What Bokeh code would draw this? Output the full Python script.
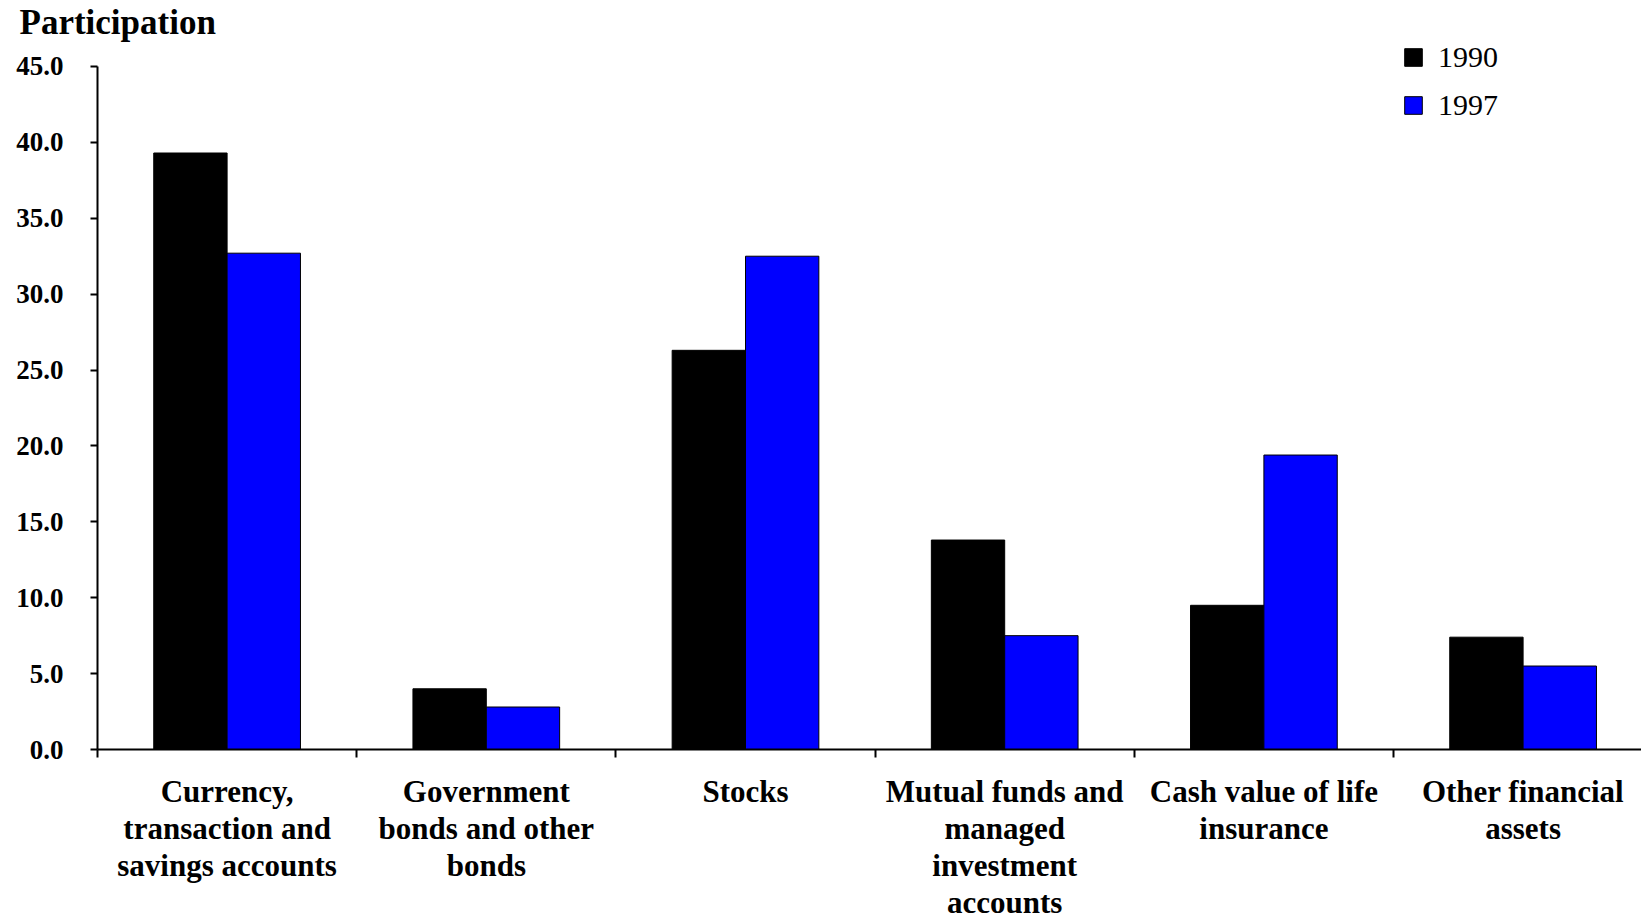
import numpy as np
from bokeh.plotting import figure
from bokeh.models import (ColumnDataSource, FixedTicker, NumeralTickFormatter, Range1d,
                          Legend, LegendItem, Label)
from bokeh.embed import file_html
from bokeh.resources import INLINE

categories = ["Currency,\ntransaction and\nsavings accounts",
              "Government\nbonds and other\nbonds",
              "Stocks",
              "Mutual funds and\nmanaged\ninvestment\naccounts",
              "Cash value of life\ninsurance",
              "Other financial\nassets"]
vals_1990 = [39.3, 4.0, 26.3, 13.8, 9.5, 7.4]
vals_1997 = [32.7, 2.8, 32.5, 7.5, 19.4, 5.5]
series_names = ["1990", "1997"]
y_ticks = [0, 5, 10, 15, 20, 25, 30, 35, 40, 45]
y_max = 45

SERIF = "Liberation Serif"
n = len(categories)
centers = np.arange(n) + 0.5
bw = 0.283

src = ColumnDataSource(dict(x90=centers - bw / 2, x97=centers + bw / 2,
                            v90=vals_1990, v97=vals_1997))

W, H = 1641, 919
# layout in pixels: axis origin at (97, 749), category width 259.2 px, 15.178 px per unit
ox, oy, cw, pu = 97.0, 749.0, 259.2, 15.178
xr = Range1d(-ox / cw, (W - ox) / cw)
yr = Range1d(-(H - oy) / pu, oy / pu)

p = figure(width=W, height=H, output_backend="svg", toolbar_location=None,
           x_range=xr, y_range=yr,
           min_border_left=0, min_border_right=0, min_border_top=0, min_border_bottom=0)
p.outline_line_color = None
p.grid.grid_line_color = None
p.background_fill_color = "white"
p.border_fill_color = "white"

r1 = p.vbar(x="x90", top="v90", width=bw, bottom=0, source=src,
            fill_color="#000000", line_color="#000000", line_width=1)
r2 = p.vbar(x="x97", top="v97", width=bw, bottom=0, source=src,
            fill_color="#0000FF", line_color="#000000", line_width=1)

# y axis
ya = p.yaxis[0]
ya.fixed_location = 0
ya.bounds = (0, y_max)
ya.ticker = FixedTicker(ticks=y_ticks)
ya.formatter = NumeralTickFormatter(format="0.0")
ya.major_tick_out = 7
ya.major_tick_in = 0
ya.minor_tick_line_color = None
ya.axis_line_width = 2
ya.major_tick_line_width = 2
ya.major_label_text_font = SERIF
ya.major_label_text_font_style = "bold"
ya.major_label_text_font_size = "27px"
ya.major_label_text_color = "black"
ya.major_label_standoff = 27

# x axis: boundary ticks only; category labels drawn below
xa = p.xaxis[0]
xa.fixed_location = 0
xa.bounds = (0, n)
xa.ticker = FixedTicker(ticks=list(range(n + 1)))
xa.major_label_overrides = {i: "" for i in range(n + 1)}
xa.major_label_standoff = 0
xa.major_tick_out = 8
xa.major_tick_in = 0
xa.minor_tick_line_color = None
xa.major_tick_line_width = 2
xa.axis_line_width = 2

for c, lab in zip(centers, categories):
    p.add_layout(Label(x=float(c), y=H - 773, x_units="data", y_units="screen", text=lab,
                       text_font=SERIF, text_font_style="bold", text_font_size="31px",
                       text_line_height=1.06, text_align="center", text_baseline="top",
                       text_color="black"))

legend = Legend(items=[LegendItem(label=series_names[0], renderers=[r1]),
                       LegendItem(label=series_names[1], renderers=[r2])],
                location=(1402, H - 122), orientation="vertical")
legend.border_line_color = None
legend.background_fill_alpha = 0
legend.padding = 0
legend.margin = 0
legend.spacing = 14
legend.glyph_width = 22
legend.glyph_height = 22
legend.label_standoff = 14
legend.label_text_font = SERIF
legend.label_text_font_size = "30px"
legend.label_text_color = "black"
p.add_layout(legend, "center")

title = Label(x=19, y=H - 22, x_units="screen", y_units="screen", text="Participation",
              text_font=SERIF, text_font_style="bold", text_font_size="35px",
              text_align="left", text_baseline="alphabetic", text_color="black")
p.add_layout(title)

open("out.html", "w").write(file_html(p, INLINE))
